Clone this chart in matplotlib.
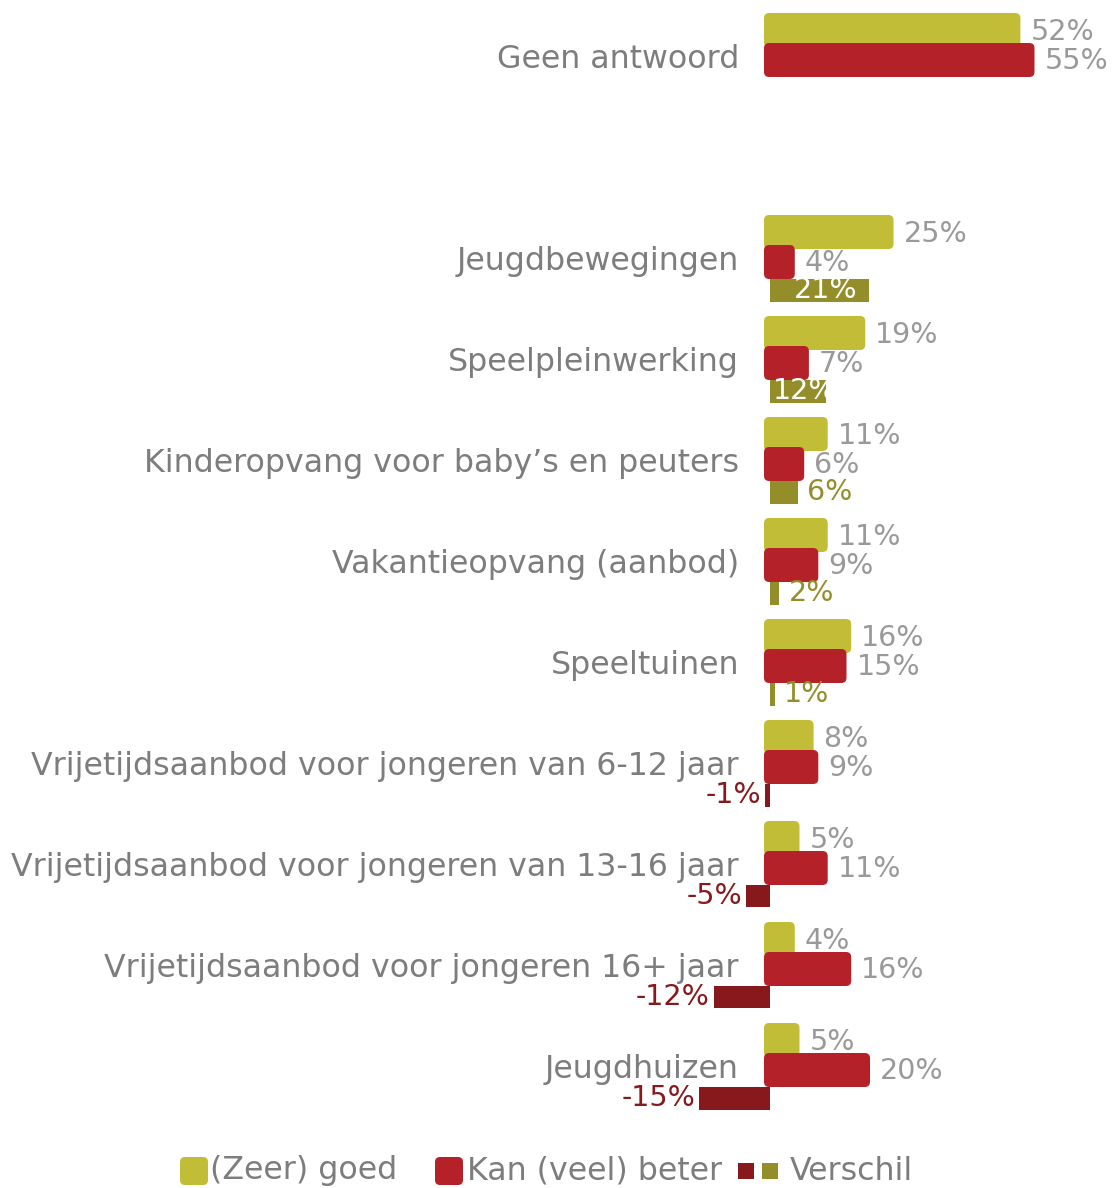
import numpy as np
import matplotlib as mpl
mpl.use('Agg')
from matplotlib import pyplot as plt
from matplotlib.patches import FancyBboxPatch, Rectangle

# data (percentages), top to bottom
categories = ['Geen antwoord',
              'Jeugdbewegingen',
              'Speelpleinwerking',
              'Kinderopvang voor baby\u2019s en peuters',
              'Vakantieopvang (aanbod)',
              'Speeltuinen',
              'Vrijetijdsaanbod voor jongeren van 6-12 jaar',
              'Vrijetijdsaanbod voor jongeren van 13-16 jaar',
              'Vrijetijdsaanbod voor jongeren 16+ jaar',
              'Jeugdhuizen']
goed = [52, 25, 19, 11, 11, 16, 8, 5, 4, 5]
beter = [55, 4, 7, 6, 9, 15, 9, 11, 16, 20]
verschil = [None, 21, 12, 6, 2, 1, -1, -5, -12, -15]
slots = [0, 2, 3, 4, 5, 6, 7, 8, 9, 10]   # one empty slot after 'Geen antwoord'

legend_labels = ['(Zeer) goed', 'Kan (veel) beter', 'Verschil']

pColors = {'goed':  '#c2bd36',
           'beter': '#b52128',
           'pos':   '#938e2a',
           'neg':   '#87191d',
           'cat':   '#7d7d7d',
           'val':   '#9b9898'}

mpl.rcParams['font.family'] = ['DejaVu Sans']

W, H, DPI = 1112, 1188, 100
PX = 4.7          # pixels per percent
ZERO = 776        # pixel x of 0 %
SLOT = 101        # pixels per category slot
TOP = 58          # pixel y of first slot

f = plt.figure(figsize = (W / DPI, H / DPI), dpi = DPI)
ax = f.add_axes([0, 0, 1, 1])
ax.set_xlim(-ZERO / PX, (W - ZERO) / PX)
ax.set_ylim((H - TOP) / SLOT, -TOP / SLOT)
ax.axis('off')

px = lambda p: p / PX         # pixel length -> x data units
py = lambda p: p / SLOT       # pixel length -> y data units
aspect = PX / SLOT

barH = py(34)
difH = py(23)
bar0 = -px(12)                # rounded bars start a bit left of zero
dif0 = -px(6)
fsCat = 22.8
fsVal = 20.5

def rbar(y, v, color, z):
    p = FancyBboxPatch((bar0, y - barH / 2), v - bar0, barH,
                       boxstyle = 'round,pad=0,rounding_size=1.1',
                       mutation_aspect = aspect, fc = color, ec = 'none',
                       zorder = z)
    ax.add_patch(p)

for cat, g, b, d, s in zip(categories, goed, beter, verschil, slots):
    ax.text(px(739 - ZERO), s + py(10), cat, ha = 'right', va = 'baseline',
            fontsize = fsCat, color = pColors['cat'])

    yg = s - py(28)
    yb = s + py(2)
    rbar(yg, g, pColors['goed'], 2)
    rbar(yb, b, pColors['beter'], 3)
    ax.text(g + px(10), yg + py(2), f'{g}%', ha = 'left', va = 'center',
            fontsize = fsVal, color = pColors['val'], zorder = 4)
    ax.text(b + px(10), yb + py(1), f'{b}%', ha = 'left', va = 'center',
            fontsize = fsVal, color = pColors['val'], zorder = 4)

    if d is None:
        continue
    yd = s + py(30)
    col = pColors['pos'] if d >= 0 else pColors['neg']
    ax.add_patch(Rectangle((dif0, yd - difH / 2), d, difH, fc = col,
                           ec = 'none', zorder = 1))
    if d >= 10:
        ax.text(dif0 + d / 2 + px(6), yd, f'{d}%', ha = 'center', va = 'center',
                fontsize = fsVal, color = 'white', zorder = 4)
    elif d >= 0:
        ax.text(dif0 + d + px(9), yd, f'{d}%', ha = 'left', va = 'center',
                fontsize = fsVal, color = col, zorder = 4)
    else:
        ax.text(dif0 + d - px(4), yd, f'{d}%', ha = 'right', va = 'center',
                fontsize = fsVal, color = col, zorder = 4)

######################################################################################
# legend (drawn in pixel coordinates)
lg = f.add_axes([0, 0, 1, 1])
lg.set_xlim(0, W)
lg.set_ylim(H, 0)
lg.axis('off')
ly = 1171
for x0, col in [(180, pColors['goed']), (435, pColors['beter'])]:
    lg.add_patch(FancyBboxPatch((x0, ly - 14), 28, 28,
                                boxstyle = 'round,pad=0,rounding_size=5',
                                fc = col, ec = 'none'))
lg.add_patch(Rectangle((738, ly - 8), 16, 16, fc = pColors['neg'], ec = 'none'))
lg.add_patch(Rectangle((762, ly - 8), 16, 16, fc = pColors['pos'], ec = 'none'))
for x0, lab in zip([210, 467, 790], legend_labels):
    lg.text(x0, ly, lab, ha = 'left', va = 'center', fontsize = fsCat,
            color = pColors['cat'])

f.savefig('out.png', dpi = DPI)
plt.close()
